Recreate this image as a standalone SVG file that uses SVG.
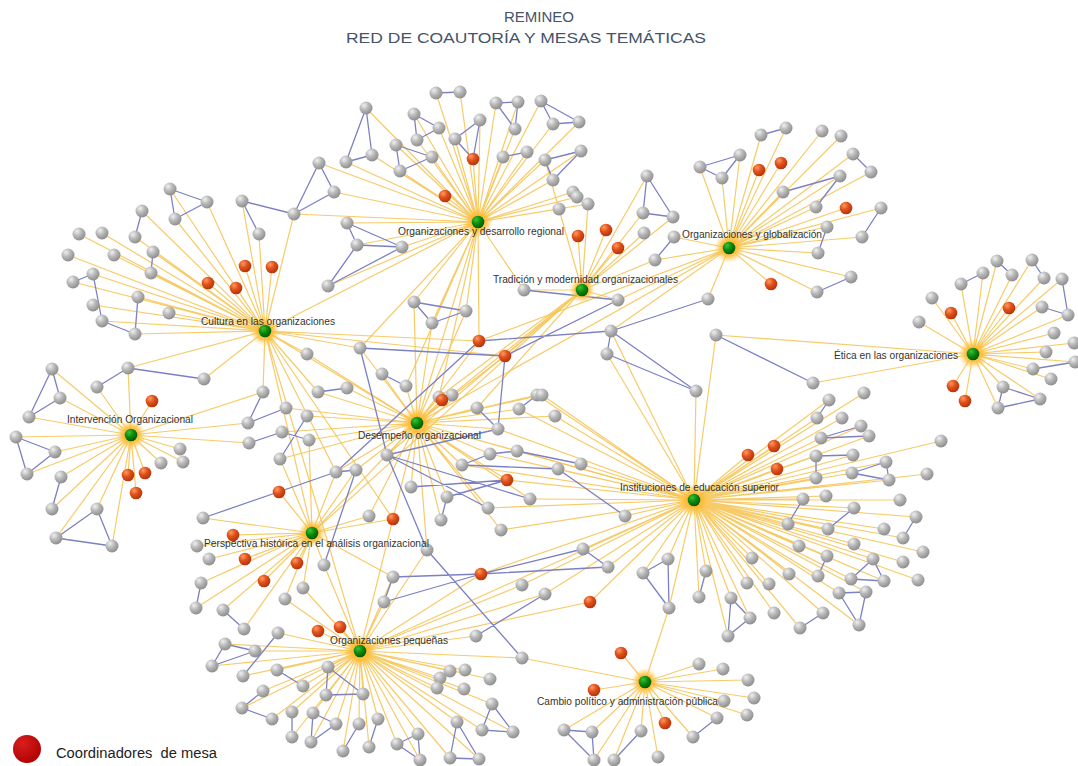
<svg xmlns="http://www.w3.org/2000/svg" xmlns:xlink="http://www.w3.org/1999/xlink" width="1078" height="766" viewBox="0 0 1078 766">
<style>
.y{fill:none;stroke:#f4c24e;stroke-width:1.2;stroke-opacity:.85;stroke-linejoin:round}
.b{fill:none;stroke:#7c80c4;stroke-width:1.3}
.lbl{font-family:"Liberation Sans",Arial,sans-serif;font-size:10px;fill:#333}
.ttl{font-family:"Liberation Sans",Arial,sans-serif;font-size:15px;fill:#44546a;text-anchor:middle}
</style>
<defs>
<radialGradient id="gg" cx="35%" cy="30%" r="75%"><stop offset="0" stop-color="#f0f0f0"/><stop offset=".45" stop-color="#b9b9b9"/><stop offset="1" stop-color="#8a8a8a"/></radialGradient>
<radialGradient id="rg" cx="35%" cy="30%" r="75%"><stop offset="0" stop-color="#ff9a60"/><stop offset=".45" stop-color="#e0521c"/><stop offset="1" stop-color="#b3300a"/></radialGradient>
<radialGradient id="hg" cx="35%" cy="30%" r="75%"><stop offset="0" stop-color="#3cc03c"/><stop offset=".5" stop-color="#0a8a0a"/><stop offset="1" stop-color="#005500"/></radialGradient>
<radialGradient id="glow"><stop offset="0" stop-color="#ffa820" stop-opacity="1"/><stop offset=".55" stop-color="#ffbc38" stop-opacity=".85"/><stop offset="1" stop-color="#ffd060" stop-opacity="0"/></radialGradient>
<radialGradient id="lg" cx="35%" cy="30%" r="75%"><stop offset="0" stop-color="#d81e1e"/><stop offset="1" stop-color="#b00000"/></radialGradient>
<circle id="g" r="6.5" fill="url(#gg)"/>
<circle id="r" r="6.3" fill="url(#rg)"/>
</defs>
<rect width="1078" height="766" fill="#fff"/>
<g id="title">
<text class="ttl" x="539" y="22">REMINEO</text>
<text class="ttl" x="526" y="43" textLength="360" lengthAdjust="spacingAndGlyphs">RED DE COAUTORÍA Y MESAS TEMÁTICAS</text>
</g>
<g id="connectors">
<polyline class="y" points="478,222 436,93 478,222 460,92 478,222 366,108 478,222 414,114 478,222 439,128 478,222 417,140 478,222 455,139 478,222 480,120 478,222 496,103 478,222 518,102 478,222 515,129 478,222 541,101 478,222 503,157 478,222 527,152 478,222 346,162 478,222 372,155 478,222 396,145 478,222 400,171 478,222 432,157 478,222 319,163 478,222 334,192 478,222 347,223 478,222 357,245 478,222 402,247 478,222 328,286 478,222 553,124 478,222 579,122 478,222 545,160 478,222 581,151 478,222 553,180 478,222 573,192 478,222 577,197 478,222 588,204 478,222 559,209 478,222 473,159 478,222 445,196 478,222 294,214 478,222 414,302 478,222 432,323 478,222 466,311 478,222 360,348 478,222 417,423 478,222 406,386 478,222 439,397 478,222 265,331 478,222 524,290 478,222 479,341"/>
<polyline class="y" points="729,248 700,167 729,248 722,178 729,248 740,155 729,248 761,135 729,248 786,128 729,248 783,192 729,248 822,131 729,248 841,136 729,248 853,154 729,248 871,172 729,248 840,176 729,248 816,207 729,248 881,208 729,248 827,227 729,248 862,237 729,248 818,253 729,248 851,277 729,248 817,292 729,248 708,299 729,248 759,170 729,248 781,163 729,248 846,208 729,248 771,284 729,248 674,237 729,248 655,260 729,248 618,300 729,248 479,341 729,248 611,331 729,248 417,423"/>
<polyline class="y" points="582,290 578,236 582,290 606,230 582,290 618,248 582,290 647,176 582,290 643,213 582,290 673,217 582,290 644,233 582,290 655,260 582,290 545,160 582,290 559,209 582,290 588,204 582,290 524,290 582,290 618,300 582,290 417,423 582,290 439,397 582,290 505,356 582,290 387,455 582,290 477,408 582,290 312,533"/>
<polyline class="y" points="265,331 170,189 265,331 207,202 265,331 175,219 265,331 142,211 265,331 135,237 265,331 79,234 265,331 102,233 265,331 68,255 265,331 114,255 265,331 153,252 265,331 151,273 265,331 93,274 265,331 73,282 265,331 138,297 265,331 93,305 265,331 169,313 265,331 102,321 265,331 135,334 265,331 242,201 265,331 259,234 265,331 294,214 265,331 204,379 265,331 245,266 265,331 208,283 265,331 236,288 265,331 272,267 265,331 128,368 265,331 307,354 265,331 360,348 265,331 479,341 265,331 505,356 265,331 417,423 265,331 336,472 265,331 318,392 265,331 263,392 265,331 393,519 265,331 360,651"/>
<polyline class="y" points="973,354 932,298 973,354 961,284 973,354 983,273 973,354 997,261 973,354 1012,275 973,354 1032,260 973,354 1044,278 973,354 1062,279 973,354 919,322 973,354 1042,307 973,354 1068,315 973,354 1054,333 973,354 1074,343 973,354 1046,352 973,354 1075,362 973,354 1033,369 973,354 1051,379 973,354 1003,387 973,354 1040,399 973,354 998,408 973,354 951,313 973,354 1009,308 973,354 953,386 973,354 965,401 973,354 813,383 973,354 716,335"/>
<polyline class="y" points="131,435 52,369 131,435 60,398 131,435 29,417 131,435 16,437 131,435 55,452 131,435 27,474 131,435 61,477 131,435 52,509 131,435 97,509 131,435 56,538 131,435 112,546 131,435 180,449 131,435 183,462 131,435 161,463 131,435 128,368 131,435 97,387 131,435 152,401 131,435 128,475 131,435 145,473 131,435 136,493 131,435 263,392 131,435 248,423 131,435 249,443"/>
<polyline class="y" points="417,423 414,302 417,423 466,311 417,423 432,323 417,423 360,348 417,423 307,354 417,423 382,374 417,423 406,386 417,423 318,392 417,423 347,388 417,423 439,397 417,423 452,395 417,423 286,408 417,423 307,416 417,423 477,408 417,423 498,429 417,423 519,409 417,423 537,395 417,423 282,432 417,423 309,440 417,423 280,459 417,423 387,455 417,423 490,454 417,423 517,451 417,423 462,465 417,423 336,472 417,423 356,470 417,423 411,487 417,423 447,497 417,423 530,499 417,423 488,508 417,423 441,520 417,423 369,516 417,423 501,530 417,423 479,341 417,423 505,356 417,423 442,400 417,423 507,480 417,423 393,519 417,423 542,395 417,423 555,416 417,423 694,500 417,423 312,533 417,423 360,651 417,423 427,550"/>
<polyline class="y" points="694,500 864,393 694,500 829,400 694,500 842,418 694,500 817,418 694,500 861,426 694,500 869,436 694,500 821,438 694,500 941,441 694,500 816,456 694,500 853,455 694,500 886,462 694,500 852,473 694,500 889,480 694,500 927,474 694,500 816,478 694,500 826,496 694,500 900,500 694,500 854,508 694,500 916,517 694,500 828,529 694,500 884,529 694,500 903,538 694,500 854,544 694,500 923,552 694,500 827,556 694,500 873,559 694,500 903,562 694,500 818,576 694,500 851,579 694,500 884,581 694,500 918,580 694,500 839,593 694,500 866,592 694,500 823,613 694,500 859,625 694,500 803,499 694,500 788,524 694,500 799,546 694,500 748,455 694,500 774,446 694,500 777,469 694,500 583,549 694,500 608,567 694,500 706,571 694,500 699,597 694,500 731,598 694,500 750,618 694,500 728,636 694,500 752,558 694,500 747,583 694,500 769,584 694,500 789,574 694,500 774,613 694,500 800,628 694,500 545,594 694,500 625,516 694,500 590,602 694,500 643,573 694,500 668,559 694,500 669,608 694,500 542,395 694,500 555,416 694,500 581,464 694,500 558,469 694,500 611,331 694,500 607,354 694,500 696,391 694,500 716,335 694,500 490,454 694,500 517,451 694,500 530,499 694,500 488,508 694,500 501,530 694,500 498,429 694,500 519,409 694,500 537,395 694,500 462,465 694,500 522,585 694,500 481,574 694,500 507,480 694,500 360,651"/>
<polyline class="y" points="312,533 197,546 312,533 209,559 312,533 201,583 312,533 196,608 312,533 223,610 312,533 244,629 312,533 324,565 312,533 303,588 312,533 285,599 312,533 203,518 312,533 245,559 312,533 264,581 312,533 233,535 312,533 297,563 312,533 279,492 312,533 336,472 312,533 356,470 312,533 369,516 312,533 393,519 312,533 280,459 312,533 309,440 312,533 393,577 312,533 265,331"/>
<polyline class="y" points="360,651 225,644 360,651 255,651 360,651 212,666 360,651 243,676 360,651 263,691 360,651 242,708 360,651 272,719 360,651 278,633 360,651 277,670 360,651 303,686 360,651 328,667 360,651 326,695 360,651 363,694 360,651 292,712 360,651 292,737 360,651 313,713 360,651 336,724 360,651 311,742 360,651 359,724 360,651 378,719 360,651 343,751 360,651 369,747 360,651 418,734 360,651 397,744 360,651 420,760 360,651 450,671 360,651 465,670 360,651 440,678 360,651 437,688 360,651 464,689 360,651 490,679 360,651 492,704 360,651 482,730 360,651 513,732 360,651 457,722 360,651 450,758 360,651 479,759 360,651 393,577 360,651 384,602 360,651 476,636 360,651 522,658 360,651 522,585 360,651 427,550 360,651 318,631 360,651 340,627 360,651 481,574 360,651 545,594 360,651 590,602 360,651 324,565 360,651 303,588 360,651 285,599"/>
<polyline class="y" points="645,682 699,664 645,682 723,669 645,682 748,680 645,682 754,698 645,682 724,701 645,682 747,715 645,682 717,718 645,682 693,737 645,682 564,730 645,682 592,732 645,682 594,760 645,682 614,760 645,682 641,731 645,682 658,757 645,682 669,608 645,682 621,653 645,682 594,690 645,682 665,723 645,682 522,658"/>
<path class="b" d="M170 189L207 202M170 189L175 219M175 219L207 202M242 201L259 234M242 201L294 214M142 211L135 237M153 252L151 273M93 274L73 282M93 274L102 321M138 297L135 334M102 321L135 334M436 93L460 92M366 108L346 162M366 108L372 155M346 162L372 155M414 114L439 128M414 114L417 140M417 140L439 128M455 139L480 120M480 120L473 159M455 139L473 159M496 103L518 102M518 102L515 129M496 103L515 129M503 157L527 152M396 145L400 171M396 145L432 157M400 171L432 157M319 163L334 192M319 163L294 214M334 192L294 214M347 223L357 245M347 223L402 247M357 245L402 247M328 286L357 245M328 286L402 247M541 101L553 124M553 124L579 122M541 101L579 122M545 160L581 151M545 160L553 180M553 180L581 151M647 176L643 213M647 176L673 217M643 213L673 217M674 237L655 260M524 290L618 300M700 167L740 155M700 167L722 178M722 178L740 155M761 135L786 128M783 192L840 176M840 176L816 207M853 154L871 172M881 208L862 237M827 227L818 253M851 277L817 292M961 284L983 273M997 261L1012 275M1032 260L1044 278M1062 279L1068 315M1042 307L1068 315M1075 362L1033 369M1003 387L998 408M1003 387L1040 399M998 408L1040 399M716 335L813 383M52 369L60 398M52 369L29 417M60 398L29 417M16 437L55 452M16 437L27 474M55 452L27 474M61 477L52 509M97 509L56 538M97 509L112 546M56 538L112 546M97 387L128 368M128 368L204 379M201 583L196 608M223 610L244 629M203 518L336 472M225 644L255 651M225 644L212 666M212 666L255 651M243 676L278 633M263 691L242 708M242 708L272 719M277 670L303 686M328 667L326 695M328 667L363 694M326 695L363 694M292 712L292 737M313 713L336 724M313 713L311 742M336 724L311 742M378 719L369 747M359 724L343 751M418 734L397 744M418 734L420 760M397 744L420 760M457 722L450 758M450 758L479 759M457 722L479 759M492 704L482 730M492 704L513 732M482 730L513 732M393 577L384 602M393 577L481 574M384 602L481 574M481 574L583 549M481 574L608 567M583 549L608 567M427 550L522 658M476 636L545 594M564 730L592 732M564 730L594 760M592 732L594 760M641 731L614 760M717 718L693 737M643 573L668 559M643 573L669 608M668 559L669 608M706 571L699 597M731 598L750 618M731 598L728 636M750 618L728 636M800 628L823 613M829 400L817 418M821 438L861 426M821 438L869 436M816 456L853 455M816 456L816 478M852 473L886 462M852 473L889 480M886 462L889 480M854 508L828 529M916 517L903 538M827 556L818 576M873 559L851 579M873 559L884 581M851 579L884 581M839 593L866 592M839 593L859 625M866 592L859 625M803 499L788 524M414 302L466 311M414 302L432 323M432 323L466 311M360 348L505 356M382 374L406 386M318 392L347 388M477 408L498 429M498 429L505 356M519 409L537 395M263 392L248 423M248 423L286 408M249 443L282 432M282 432L309 440M307 416L280 459M387 455L360 348M387 455L498 429M387 455L530 499M387 455L488 508M387 455L427 550M462 465L490 454M490 454L517 451M411 487L507 480M447 497L507 480M447 497L441 520M336 472L356 470M336 472L479 341M479 341L611 331M505 356L618 300M611 331L708 299M611 331L607 354M611 331L696 391M607 354L696 391M558 469L625 516M462 465L558 469M517 451L581 464M356 470L324 565"/>
</g>
<g id="nodes">
<use id="a1" href="#g" x="170" y="189"/><use id="a2" href="#g" x="207" y="202"/><use id="a3" href="#g" x="175" y="219"/><use id="a4" href="#g" x="142" y="211"/><use id="a5" href="#g" x="135" y="237"/><use id="a6" href="#g" x="79" y="234"/><use id="a7" href="#g" x="102" y="233"/><use id="a8" href="#g" x="68" y="255"/><use id="a9" href="#g" x="114" y="255"/><use id="a10" href="#g" x="153" y="252"/><use id="a11" href="#g" x="151" y="273"/><use id="a12" href="#g" x="93" y="274"/><use id="a13" href="#g" x="73" y="282"/><use id="a14" href="#g" x="138" y="297"/><use id="a15" href="#g" x="93" y="305"/><use id="a16" href="#g" x="169" y="313"/><use id="a17" href="#g" x="102" y="321"/><use id="a18" href="#g" x="135" y="334"/><use id="a19" href="#g" x="242" y="201"/><use id="a20" href="#g" x="259" y="234"/><use id="a21" href="#g" x="294" y="214"/><use id="a22" href="#g" x="204" y="379"/>
<use id="b1" href="#g" x="436" y="93"/><use id="b2" href="#g" x="460" y="92"/><use id="b3" href="#g" x="366" y="108"/><use id="b4" href="#g" x="414" y="114"/><use id="b5" href="#g" x="439" y="128"/><use id="b6" href="#g" x="417" y="140"/><use id="b7" href="#g" x="455" y="139"/><use id="b8" href="#g" x="480" y="120"/><use id="b9" href="#g" x="496" y="103"/><use id="b10" href="#g" x="518" y="102"/><use id="b11" href="#g" x="515" y="129"/><use id="b12" href="#g" x="541" y="101"/><use id="b13" href="#g" x="503" y="157"/><use id="b14" href="#g" x="527" y="152"/><use id="b15" href="#g" x="346" y="162"/><use id="b16" href="#g" x="372" y="155"/><use id="b17" href="#g" x="396" y="145"/><use id="b18" href="#g" x="400" y="171"/><use id="b19" href="#g" x="432" y="157"/><use id="b20" href="#g" x="319" y="163"/><use id="b21" href="#g" x="334" y="192"/><use id="b22" href="#g" x="347" y="223"/><use id="b23" href="#g" x="357" y="245"/><use id="b24" href="#g" x="402" y="247"/><use id="b25" href="#g" x="328" y="286"/><use id="b26" href="#g" x="553" y="124"/><use id="b27" href="#g" x="579" y="122"/><use id="b28" href="#g" x="545" y="160"/><use id="b29" href="#g" x="581" y="151"/><use id="b30" href="#g" x="553" y="180"/><use id="b31" href="#g" x="573" y="192"/><use id="b32" href="#g" x="577" y="197"/><use id="b33" href="#g" x="588" y="204"/><use id="b34" href="#g" x="559" y="209"/>
<use id="c1" href="#g" x="647" y="176"/><use id="c2" href="#g" x="643" y="213"/><use id="c3" href="#g" x="673" y="217"/><use id="c4" href="#g" x="644" y="233"/><use id="c5" href="#g" x="674" y="237"/><use id="c6" href="#g" x="655" y="260"/><use id="c7" href="#g" x="618" y="300"/><use id="c8" href="#g" x="524" y="290"/>
<use id="d1" href="#g" x="700" y="167"/><use id="d2" href="#g" x="722" y="178"/><use id="d3" href="#g" x="740" y="155"/><use id="d4" href="#g" x="761" y="135"/><use id="d5" href="#g" x="786" y="128"/><use id="d6" href="#g" x="783" y="192"/><use id="d7" href="#g" x="822" y="131"/><use id="d8" href="#g" x="841" y="136"/><use id="d9" href="#g" x="853" y="154"/><use id="d10" href="#g" x="871" y="172"/><use id="d11" href="#g" x="840" y="176"/><use id="d12" href="#g" x="816" y="207"/><use id="d13" href="#g" x="881" y="208"/><use id="d14" href="#g" x="827" y="227"/><use id="d15" href="#g" x="862" y="237"/><use id="d16" href="#g" x="818" y="253"/><use id="d17" href="#g" x="851" y="277"/><use id="d18" href="#g" x="817" y="292"/><use id="d19" href="#g" x="708" y="299"/>
<use id="e1" href="#g" x="932" y="298"/><use id="e2" href="#g" x="961" y="284"/><use id="e3" href="#g" x="983" y="273"/><use id="e4" href="#g" x="997" y="261"/><use id="e5" href="#g" x="1012" y="275"/><use id="e6" href="#g" x="1032" y="260"/><use id="e7" href="#g" x="1044" y="278"/><use id="e8" href="#g" x="1062" y="279"/><use id="e9" href="#g" x="919" y="322"/><use id="e10" href="#g" x="1042" y="307"/><use id="e11" href="#g" x="1068" y="315"/><use id="e12" href="#g" x="1054" y="333"/><use id="e13" href="#g" x="1074" y="343"/><use id="e14" href="#g" x="1046" y="352"/><use id="e15" href="#g" x="1075" y="362"/><use id="e16" href="#g" x="1033" y="369"/><use id="e17" href="#g" x="1051" y="379"/><use id="e18" href="#g" x="1003" y="387"/><use id="e19" href="#g" x="1040" y="399"/><use id="e20" href="#g" x="998" y="408"/><use id="f1" href="#g" x="813" y="383"/><use id="f2" href="#g" x="716" y="335"/>
<use id="i1" href="#g" x="52" y="369"/><use id="i2" href="#g" x="60" y="398"/><use id="i3" href="#g" x="29" y="417"/><use id="i4" href="#g" x="16" y="437"/><use id="i5" href="#g" x="55" y="452"/><use id="i6" href="#g" x="27" y="474"/><use id="i7" href="#g" x="61" y="477"/><use id="i8" href="#g" x="52" y="509"/><use id="i9" href="#g" x="97" y="509"/><use id="i10" href="#g" x="56" y="538"/><use id="i11" href="#g" x="112" y="546"/><use id="i12" href="#g" x="180" y="449"/><use id="i13" href="#g" x="183" y="462"/><use id="i14" href="#g" x="161" y="463"/><use id="i15" href="#g" x="128" y="368"/><use id="i16" href="#g" x="97" y="387"/>
<use id="p1" href="#g" x="197" y="546"/><use id="p2" href="#g" x="209" y="559"/><use id="p3" href="#g" x="201" y="583"/><use id="p4" href="#g" x="196" y="608"/><use id="p5" href="#g" x="223" y="610"/><use id="p6" href="#g" x="244" y="629"/><use id="p7" href="#g" x="324" y="565"/><use id="p8" href="#g" x="303" y="588"/><use id="p9" href="#g" x="285" y="599"/><use id="p10" href="#g" x="203" y="518"/>
<use id="o1" href="#g" x="225" y="644"/><use id="o2" href="#g" x="255" y="651"/><use id="o3" href="#g" x="212" y="666"/><use id="o4" href="#g" x="243" y="676"/><use id="o5" href="#g" x="263" y="691"/><use id="o6" href="#g" x="242" y="708"/><use id="o7" href="#g" x="272" y="719"/><use id="o8" href="#g" x="278" y="633"/><use id="o9" href="#g" x="277" y="670"/><use id="o10" href="#g" x="303" y="686"/><use id="o11" href="#g" x="328" y="667"/><use id="o12" href="#g" x="326" y="695"/><use id="o13" href="#g" x="363" y="694"/><use id="o15" href="#g" x="292" y="712"/><use id="o16" href="#g" x="292" y="737"/><use id="o17" href="#g" x="313" y="713"/><use id="o18" href="#g" x="336" y="724"/><use id="o19" href="#g" x="311" y="742"/><use id="o20" href="#g" x="359" y="724"/><use id="o21" href="#g" x="378" y="719"/><use id="o22" href="#g" x="343" y="751"/><use id="o23" href="#g" x="369" y="747"/><use id="o24" href="#g" x="418" y="734"/><use id="o25" href="#g" x="397" y="744"/><use id="o26" href="#g" x="420" y="760"/><use id="o27" href="#g" x="450" y="671"/><use id="o28" href="#g" x="465" y="670"/><use id="o29" href="#g" x="440" y="678"/><use id="o30" href="#g" x="437" y="688"/><use id="o31" href="#g" x="464" y="689"/><use id="o32" href="#g" x="490" y="679"/><use id="o33" href="#g" x="492" y="704"/><use id="o34" href="#g" x="482" y="730"/><use id="o35" href="#g" x="513" y="732"/><use id="o36" href="#g" x="457" y="722"/><use id="o37" href="#g" x="450" y="758"/><use id="o38" href="#g" x="479" y="759"/><use id="o39" href="#g" x="393" y="577"/><use id="o40" href="#g" x="384" y="602"/><use id="o41" href="#g" x="476" y="636"/><use id="o42" href="#g" x="522" y="658"/><use id="o43" href="#g" x="522" y="585"/><use id="o44" href="#g" x="427" y="550"/>
<use id="q1" href="#g" x="699" y="664"/><use id="q2" href="#g" x="723" y="669"/><use id="q3" href="#g" x="748" y="680"/><use id="q4" href="#g" x="754" y="698"/><use id="q5" href="#g" x="724" y="701"/><use id="q6" href="#g" x="747" y="715"/><use id="q7" href="#g" x="717" y="718"/><use id="q8" href="#g" x="693" y="737"/><use id="q9" href="#g" x="564" y="730"/><use id="q10" href="#g" x="592" y="732"/><use id="q11" href="#g" x="594" y="760"/><use id="q12" href="#g" x="614" y="760"/><use id="q13" href="#g" x="641" y="731"/><use id="q14" href="#g" x="658" y="757"/><use id="q15" href="#g" x="669" y="608"/><use id="q16" href="#g" x="643" y="573"/><use id="q17" href="#g" x="668" y="559"/>
<use id="s1" href="#g" x="864" y="393"/><use id="s2" href="#g" x="829" y="400"/><use id="s3" href="#g" x="842" y="418"/><use id="s4" href="#g" x="817" y="418"/><use id="s5" href="#g" x="861" y="426"/><use id="s6" href="#g" x="869" y="436"/><use id="s7" href="#g" x="821" y="438"/><use id="s8" href="#g" x="941" y="441"/><use id="s9" href="#g" x="816" y="456"/><use id="s10" href="#g" x="853" y="455"/><use id="s11" href="#g" x="886" y="462"/><use id="s12" href="#g" x="852" y="473"/><use id="s13" href="#g" x="889" y="480"/><use id="s14" href="#g" x="927" y="474"/><use id="s15" href="#g" x="816" y="478"/><use id="s16" href="#g" x="826" y="496"/><use id="s17" href="#g" x="900" y="500"/><use id="s18" href="#g" x="854" y="508"/><use id="s19" href="#g" x="916" y="517"/><use id="s20" href="#g" x="828" y="529"/><use id="s21" href="#g" x="884" y="529"/><use id="s22" href="#g" x="903" y="538"/><use id="s23" href="#g" x="854" y="544"/><use id="s24" href="#g" x="923" y="552"/><use id="s25" href="#g" x="827" y="556"/><use id="s26" href="#g" x="873" y="559"/><use id="s27" href="#g" x="903" y="562"/><use id="s28" href="#g" x="818" y="576"/><use id="s29" href="#g" x="851" y="579"/><use id="s30" href="#g" x="884" y="581"/><use id="s31" href="#g" x="918" y="580"/><use id="s32" href="#g" x="839" y="593"/><use id="s33" href="#g" x="866" y="592"/><use id="s34" href="#g" x="823" y="613"/><use id="s35" href="#g" x="859" y="625"/><use id="s36" href="#g" x="803" y="499"/><use id="s37" href="#g" x="788" y="524"/><use id="s38" href="#g" x="799" y="546"/>
<use id="t1" href="#g" x="583" y="549"/><use id="t2" href="#g" x="608" y="567"/><use id="t3" href="#g" x="706" y="571"/><use id="t4" href="#g" x="699" y="597"/><use id="t5" href="#g" x="731" y="598"/><use id="t6" href="#g" x="750" y="618"/><use id="t7" href="#g" x="728" y="636"/><use id="t8" href="#g" x="752" y="558"/><use id="t9" href="#g" x="747" y="583"/><use id="t10" href="#g" x="769" y="584"/><use id="t11" href="#g" x="789" y="574"/><use id="t12" href="#g" x="774" y="613"/><use id="t13" href="#g" x="800" y="628"/><use id="t15" href="#g" x="545" y="594"/><use id="t16" href="#g" x="625" y="516"/>
<use id="m1" href="#g" x="414" y="302"/><use id="m2" href="#g" x="466" y="311"/><use id="m3" href="#g" x="432" y="323"/><use id="m4" href="#g" x="360" y="348"/><use id="m5" href="#g" x="307" y="354"/><use id="m6" href="#g" x="382" y="374"/><use id="m7" href="#g" x="406" y="386"/><use id="m8" href="#g" x="318" y="392"/><use id="m9" href="#g" x="347" y="388"/><use id="m10" href="#g" x="439" y="397"/><use id="m11" href="#g" x="452" y="395"/><use id="m12" href="#g" x="286" y="408"/><use id="m13" href="#g" x="307" y="416"/><use id="m14" href="#g" x="477" y="408"/><use id="m15" href="#g" x="498" y="429"/><use id="m16" href="#g" x="519" y="409"/><use id="m17" href="#g" x="537" y="395"/><use id="m18" href="#g" x="282" y="432"/><use id="m19" href="#g" x="309" y="440"/><use id="m20" href="#g" x="280" y="459"/><use id="m21" href="#g" x="387" y="455"/><use id="m22" href="#g" x="490" y="454"/><use id="m23" href="#g" x="517" y="451"/><use id="m24" href="#g" x="462" y="465"/><use id="m25" href="#g" x="336" y="472"/><use id="m26" href="#g" x="356" y="470"/><use id="m27" href="#g" x="411" y="487"/><use id="m28" href="#g" x="447" y="497"/><use id="m29" href="#g" x="530" y="499"/><use id="m30" href="#g" x="488" y="508"/><use id="m31" href="#g" x="441" y="520"/><use id="m32" href="#g" x="369" y="516"/><use id="m33" href="#g" x="501" y="530"/><use id="m34" href="#g" x="263" y="392"/><use id="m35" href="#g" x="248" y="423"/><use id="m36" href="#g" x="249" y="443"/><use id="m37" href="#g" x="542" y="395"/><use id="m38" href="#g" x="555" y="416"/><use id="m39" href="#g" x="581" y="464"/><use id="m40" href="#g" x="558" y="469"/><use id="m41" href="#g" x="611" y="331"/><use id="m42" href="#g" x="607" y="354"/><use id="m43" href="#g" x="696" y="391"/>
<use id="r1" href="#r" x="245" y="266"/><use id="r2" href="#r" x="208" y="283"/><use id="r3" href="#r" x="236" y="288"/><use id="r4" href="#r" x="272" y="267"/><use id="r5" href="#r" x="473" y="159"/><use id="r6" href="#r" x="445" y="196"/><use id="r7" href="#r" x="578" y="236"/><use id="r8" href="#r" x="606" y="230"/><use id="r9" href="#r" x="618" y="248"/><use id="r10" href="#r" x="759" y="170"/><use id="r11" href="#r" x="781" y="163"/><use id="r12" href="#r" x="846" y="208"/><use id="r13" href="#r" x="771" y="284"/><use id="r14" href="#r" x="951" y="313"/><use id="r15" href="#r" x="1009" y="308"/><use id="r16" href="#r" x="953" y="386"/><use id="r17" href="#r" x="965" y="401"/><use id="r18" href="#r" x="152" y="401"/><use id="r19" href="#r" x="128" y="475"/><use id="r20" href="#r" x="145" y="473"/><use id="r21" href="#r" x="136" y="493"/><use id="r22" href="#r" x="245" y="559"/><use id="r23" href="#r" x="264" y="581"/><use id="r24" href="#r" x="233" y="535"/><use id="r25" href="#r" x="297" y="563"/><use id="r26" href="#r" x="279" y="492"/><use id="r27" href="#r" x="318" y="631"/><use id="r28" href="#r" x="340" y="627"/><use id="r29" href="#r" x="481" y="574"/><use id="r30" href="#r" x="621" y="653"/><use id="r31" href="#r" x="594" y="690"/><use id="r32" href="#r" x="665" y="723"/><use id="r33" href="#r" x="748" y="455"/><use id="r34" href="#r" x="774" y="446"/><use id="r35" href="#r" x="777" y="469"/><use id="r36" href="#r" x="590" y="602"/><use id="r37" href="#r" x="479" y="341"/><use id="r38" href="#r" x="505" y="356"/><use id="r39" href="#r" x="442" y="400"/><use id="r40" href="#r" x="507" y="480"/><use id="r41" href="#r" x="393" y="519"/>
</g>
<g id="hub-desarrollo-regional"><circle cx="478" cy="222" r="15" fill="url(#glow)"/><circle cx="478" cy="222" r="6.3" fill="url(#hg)"/><text class="lbl" x="398" y="235" textLength="166" lengthAdjust="spacingAndGlyphs">Organizaciones y desarrollo regional</text></g>
<g id="hub-globalizacion"><circle cx="729" cy="248" r="15" fill="url(#glow)"/><circle cx="729" cy="248" r="6.3" fill="url(#hg)"/><text class="lbl" x="682" y="238" textLength="140" lengthAdjust="spacingAndGlyphs">Organizaciones y globalización</text></g>
<g id="hub-tradicion"><circle cx="582" cy="290" r="13" fill="url(#glow)"/><circle cx="582" cy="290" r="6.3" fill="url(#hg)"/><text class="lbl" x="493" y="283" textLength="185" lengthAdjust="spacingAndGlyphs">Tradición y modernidad organizacionales</text></g>
<g id="hub-cultura"><circle cx="265" cy="331" r="15" fill="url(#glow)"/><circle cx="265" cy="331" r="6.3" fill="url(#hg)"/><text class="lbl" x="201" y="325" textLength="134" lengthAdjust="spacingAndGlyphs">Cultura en las organizaciones</text></g>
<g id="hub-etica"><circle cx="973" cy="354" r="15" fill="url(#glow)"/><circle cx="973" cy="354" r="6.3" fill="url(#hg)"/><text class="lbl" x="834" y="359" textLength="124" lengthAdjust="spacingAndGlyphs">Ética en las organizaciones</text></g>
<g id="hub-intervencion"><circle cx="131" cy="435" r="15" fill="url(#glow)"/><circle cx="131" cy="435" r="6.3" fill="url(#hg)"/><text class="lbl" x="67" y="423" textLength="126" lengthAdjust="spacingAndGlyphs">Intervención Organizacional</text></g>
<g id="hub-desempeno"><circle cx="417" cy="423" r="16" fill="url(#glow)"/><circle cx="417" cy="423" r="6.3" fill="url(#hg)"/><text class="lbl" x="358" y="439" textLength="123" lengthAdjust="spacingAndGlyphs">Desempeño organizacional</text></g>
<g id="hub-ies"><circle cx="694" cy="500" r="17" fill="url(#glow)"/><circle cx="694" cy="500" r="6.3" fill="url(#hg)"/><text class="lbl" x="620" y="491" textLength="159" lengthAdjust="spacingAndGlyphs">Instituciones de educación superior</text></g>
<g id="hub-perspectiva"><circle cx="312" cy="533" r="14" fill="url(#glow)"/><circle cx="312" cy="533" r="6.3" fill="url(#hg)"/><text class="lbl" x="204" y="547" textLength="225" lengthAdjust="spacingAndGlyphs">Perspectiva histórica en el análisis organizacional</text></g>
<g id="hub-pequenas"><circle cx="360" cy="651" r="17" fill="url(#glow)"/><circle cx="360" cy="651" r="6.3" fill="url(#hg)"/><text class="lbl" x="330" y="644" textLength="118" lengthAdjust="spacingAndGlyphs">Organizaciones pequeñas</text></g>
<g id="hub-cambio"><circle cx="645" cy="682" r="14" fill="url(#glow)"/><circle cx="645" cy="682" r="6.3" fill="url(#hg)"/><text class="lbl" x="537" y="705" textLength="181" lengthAdjust="spacingAndGlyphs">Cambio político y administración pública</text></g>
<g id="legend"><circle cx="27" cy="749" r="14" fill="url(#lg)"/><text x="56" y="758" xml:space="preserve" textLength="161" lengthAdjust="spacingAndGlyphs" style="font-family:'Liberation Sans',Arial,sans-serif;font-size:14px;fill:#222">Coordinadores  de mesa</text></g>
</svg>
